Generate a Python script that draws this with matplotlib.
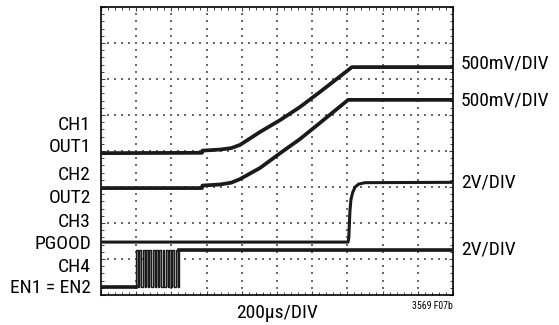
import numpy as np
import matplotlib
matplotlib.use('Agg')
import matplotlib.pyplot as plt

plt.rcParams['font.family'] = ['Roboto Condensed', 'DejaVu Sans']

W, H = 559, 325

# traces in divisions (x: 0..10, y: 0..8 from the bottom)
ch1_t = [0.0, 2.87, 2.88, 3.38, 3.7, 3.95, 4.52, 5.09, 5.65, 6.22, 7.13, 10.0]
ch1_v = [3.94, 3.95, 4.01, 4.04, 4.08, 4.17, 4.53, 4.86, 5.22, 5.64, 6.33, 6.33]

ch2_t = [0.0, 2.87, 2.88, 3.38, 3.7, 3.95, 4.52, 5.09, 5.65, 6.22, 7.02, 10.0]
ch2_v = [2.97, 2.97, 3.04, 3.07, 3.12, 3.22, 3.53, 3.94, 4.33, 4.78, 5.42, 5.42]

pgood_t = [0.0, 7.02, 7.04, 7.07, 7.10, 7.15, 7.22, 7.32, 7.5, 10.0]
pgood_v = [1.47, 1.47, 1.60, 2.30, 2.65, 2.85, 3.00, 3.08, 3.12, 3.13]

en_low, en_high = 0.22, 1.26
# rising / falling edges of the enable burst
en_rise = [1.00, 1.09, 1.19, 1.28, 1.37, 1.47, 1.56, 1.66, 1.75, 1.84, 1.94, 2.03, 2.13, 2.22]
en_fall = [1.05, 1.14, 1.24, 1.33, 1.42, 1.52, 1.61, 1.71, 1.80, 1.89, 1.99, 2.08, 2.18]

left_labels = [('CH1', 125), ('OUT1', 147), ('CH2', 175), ('OUT2', 198),
               ('CH3', 222), ('PGOOD', 244), ('CH4', 267), ('EN1 = EN2', 288)]
right_labels = [('500mV/DIV', 64), ('500mV/DIV', 101), ('2V/DIV', 182), ('2V/DIV', 250)]

fig = plt.figure(figsize=(W / 100, H / 100), dpi=100)
ax = fig.add_axes([101 / W, 1 - 295 / H, 352 / W, 288 / H])
ax.set_xlim(0, 10)
ax.set_ylim(0, 8)

# graticule: dotted division lines
dot = dict(s=0.7, c='#6a6a6a', marker='s', lw=0, zorder=1)
for gx in range(1, 10):
    ys = np.arange(0.2, 7.9, 0.2)
    ax.scatter(np.full_like(ys, gx), ys, **dot)
for gy in range(1, 8):
    xs = np.arange(0.2, 9.9, 0.2)
    ax.scatter(xs, np.full_like(xs, gy), **dot)

ax.set_xticks(np.arange(0, 11, 1))
ax.set_yticks(np.arange(0, 9, 1))
ax.set_xticks(np.arange(0, 10.01, 0.2), minor=True)
ax.set_yticks(np.arange(0, 8.01, 0.2), minor=True)
ax.tick_params(which='both', direction='in', top=True, right=True,
               labelbottom=False, labelleft=False, color='#444444')
ax.tick_params(which='major', length=3, width=0.8)
ax.tick_params(which='minor', length=2, width=0.7)
for sp in ax.spines.values():
    sp.set_linewidth(1.2)

tc = '#1a1a1a'
ax.plot(ch1_t, ch1_v, color=tc, lw=2.7, solid_joinstyle='round', zorder=3)
ax.plot(ch2_t, ch2_v, color=tc, lw=2.7, solid_joinstyle='round', zorder=3)
ax.plot(pgood_t, pgood_v, color=tc, lw=2.2, solid_joinstyle='round', zorder=3)

# enable line: low, burst of pulses, then high
en_t, en_v = [0.0], [en_low]
for i, r in enumerate(en_rise):
    en_t += [r, r]
    en_v += [en_low, en_high]
    if i < len(en_fall):
        f = en_fall[i]
        en_t += [f, f]
        en_v += [en_high, en_low]
en_t.append(10.0)
en_v.append(en_high)
for r, f in zip(en_rise, en_fall):
    ax.fill_between([r, f], en_low, en_high, color='#a0a0a0', lw=0, zorder=2)
ax.plot(en_t, en_v, color=tc, lw=1.0, zorder=3)
ax.plot([0, en_rise[0]], [en_low, en_low], color=tc, lw=2.6, zorder=3)
ax.plot([en_rise[-1], 10], [en_high, en_high], color=tc, lw=2.6, zorder=3)

fs = 14
for txt, y in left_labels:
    fig.text(91 / W, 1 - y / H, txt, ha='right', va='center', fontsize=fs)
for txt, y in right_labels:
    fig.text(461 / W, 1 - y / H, txt, ha='left', va='center', fontsize=fs)
fig.text(277 / W, 1 - 313 / H, '200µs/DIV', ha='center', va='center', fontsize=fs)
fig.text(453 / W, 1 - 306 / H, '3569 F07b', ha='right', va='center', fontsize=7)

fig.savefig('out.png', dpi=100)
